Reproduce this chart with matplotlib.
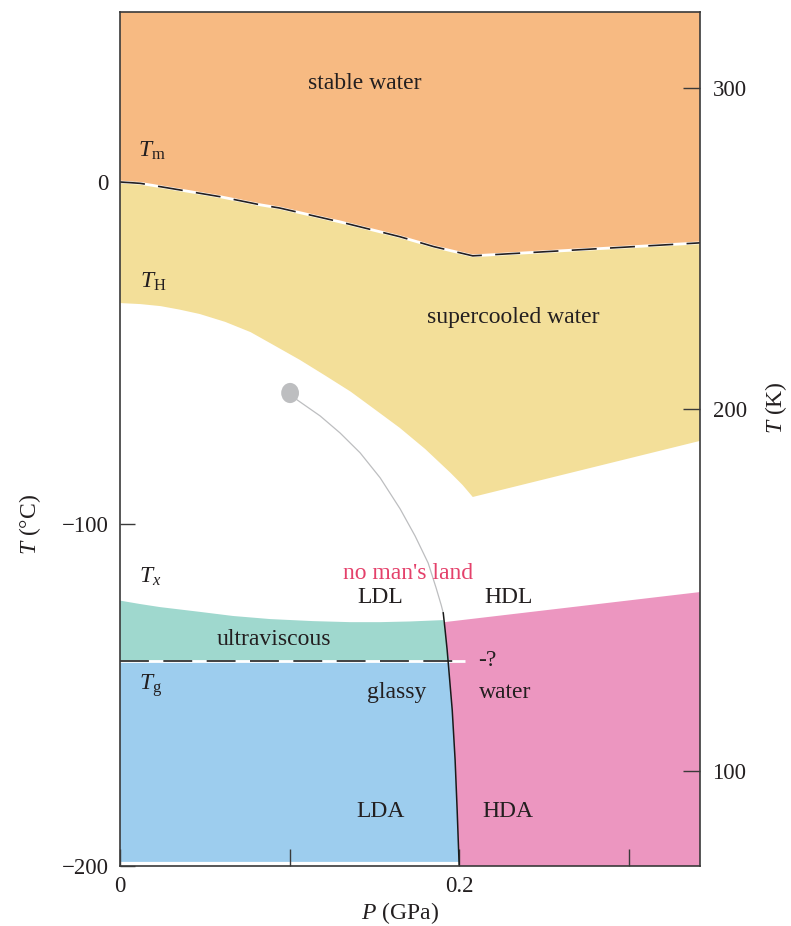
import numpy as np
import matplotlib
matplotlib.use("Agg")
import matplotlib.pyplot as plt
from matplotlib.patches import Ellipse

plt.rcParams['font.family'] = ['Liberation Serif', 'DejaVu Serif']
plt.rcParams['mathtext.fontset'] = 'custom'
plt.rcParams['mathtext.rm'] = 'Liberation Serif'
plt.rcParams['mathtext.it'] = 'Liberation Serif:italic'
plt.rcParams['axes.unicode_minus'] = True

# ---------------- data (P in GPa, T in degC) ----------------
# melting line T_m
P_m = [0, 0.012, 0.035, 0.059, 0.083, 0.094, 0.130, 0.165, 0.185, 0.208, 0.342]
T_m = [0, -0.4, -2.3, -4.3, -6.7, -7.6, -11.7, -16.0, -18.9, -21.6, -17.8]
# homogeneous nucleation line T_H
P_H = [0, 0.012, 0.024, 0.035, 0.047, 0.062, 0.077, 0.091, 0.106, 0.121, 0.136,
       0.150, 0.165, 0.180, 0.195, 0.202, 0.208, 0.342]
T_H = [-35.4, -35.7, -36.3, -37.3, -38.6, -40.9, -43.9, -47.8, -52.0, -56.6, -61.3,
       -66.4, -71.9, -78.1, -85.1, -88.6, -92.1, -75.7]
# crystallisation line T_x (LDL side)
P_x = [0, 0.0118, 0.0236, 0.0472, 0.0667, 0.0885, 0.1139, 0.1357, 0.1534, 0.1711, 0.1906]
T_x = [-122.4, -123.4, -124.3, -125.7, -126.9, -127.8, -128.4, -128.7, -128.7, -128.5, -128.1]
# crystallisation line (HDL side)
P_xh = [0.1915, 0.342]
T_xh = [-128.7, -119.9]
# glass transition T_g
T_g = -140.0
P_g_end = 0.2035
# LDL/HDL (LDA/HDA) boundary, from the critical point down
P_b = [0.1003, 0.1044, 0.1180, 0.1298, 0.1416, 0.1534, 0.1652, 0.1740, 0.1817, 0.1864,
       0.1894, 0.1906, 0.1917, 0.1929, 0.1944, 0.1959, 0.1976, 0.1988, 0.2000]
T_b = [-61.7, -63.7, -68.4, -73.4, -79.2, -86.5, -95.6, -103.5, -111.4, -118.7,
       -123.7, -126.0, -131.0, -136.8, -145.6, -154.4, -169.0, -183.6, -200.0]
T_b_solid_start = -126.0
# critical point
P_c, T_c = 0.1003, -61.7

xticks = [0, 0.1, 0.2, 0.3]
xtick_labels = ['0', '', '0.2', '']
yticks = [0, -100, -200]
ytick_labels = ['0', '\u2212100', '\u2212200']
K_labels = [300, 200, 100]
K_pos_C = [27.5, -66.4, -172.2]

labels = [
    ("stable water", 0.1445, 28.9),
    ("supercooled water", 0.2319, -39.5),
    ("LDL", 0.1534, -121.6),
    ("HDL", 0.2289, -121.6),
    ("ultraviscous", 0.0909, -133.9),
    ("glassy", 0.1634, -149.4),
    ("water", 0.2271, -149.4),
    ("LDA", 0.1534, -184.2),
    ("HDA", 0.2289, -184.2),
]
sym_labels = [
    (r"$T_\mathrm{m}$", 0.0106, 7.5),
    (r"$T_\mathrm{H}$", 0.0118, -31.0),
    (r"$T_x$", 0.0112, -117.3),
    (r"$T_\mathrm{g}$", 0.0112, -148.5),
]

# ---------------- style ----------------
C_ORANGE = '#F7BA82'
C_YELLOW = '#F3DF99'
C_TEAL = '#9FD8CE'
C_BLUE = '#9DCDEE'
C_PINK = '#EC96C0'
C_TEXT = '#231F20'
C_RED = '#E4416B'
C_GRAY = '#BDBEC0'

XMAX = 0.342
YMIN, YMAX = -200.0, 49.7

fig = plt.figure(figsize=(7.91, 9.26), dpi=100)
ax = fig.add_axes([120/791, 60/926, 580/791, 854/926])
ax.set_xlim(0, XMAX)
ax.set_ylim(YMIN, YMAX)

Tb_arr = np.array(T_b)
Pb_arr = np.array(P_b)

def b_P(T):
    # P on boundary curve for given T (T_b decreasing)
    return float(np.interp(T, Tb_arr[::-1], Pb_arr[::-1]))

# orange: stable water
ax.fill(list(P_m) + [XMAX, 0], list(T_m) + [YMAX, YMAX], color=C_ORANGE, lw=0, zorder=1)
# yellow: supercooled
ax.fill(list(P_m) + list(P_H[::-1]), list(T_m) + list(T_H[::-1]), color=C_YELLOW, lw=0, zorder=1)

# pink: HDL / HDA
mask = Tb_arr < T_xh[0]
pink_P = [b_P(T_xh[0])] + list(P_xh[1:]) + [XMAX, XMAX] + list(Pb_arr[mask][::-1])
pink_T = [T_xh[0]] + list(T_xh[1:]) + [YMIN, YMIN] + list(Tb_arr[mask][::-1])
ax.fill(pink_P, pink_T, color=C_PINK, lw=0, zorder=1)

# teal: ultraviscous LDL
m2 = (Tb_arr < T_x[-1]) & (Tb_arr > T_g)
teal_P = list(P_x) + list(Pb_arr[m2]) + [b_P(T_g) + 0.001, 0]
teal_T = list(T_x) + list(Tb_arr[m2]) + [T_g, T_g]
ax.fill(teal_P, teal_T, color=C_TEAL, lw=0, zorder=1)

# blue: LDA
blue_bot = -198.8
m3 = (Tb_arr < T_g) & (Tb_arr > blue_bot)
blue_P = [0, b_P(T_g) + 0.001] + list(Pb_arr[m3]) + [b_P(blue_bot), 0]
blue_T = [T_g, T_g] + list(Tb_arr[m3]) + [blue_bot, blue_bot]
ax.fill(blue_P, blue_T, color=C_BLUE, lw=0, zorder=1)

# dashed lines
ax.plot(P_m, T_m, color='white', lw=2.0, zorder=2, solid_capstyle='butt')
ax.plot(P_m, T_m, color=C_TEXT, lw=1.2, dashes=(15, 8), zorder=3)
ax.plot([0, P_g_end], [T_g, T_g], color='white', lw=2.0, zorder=2, solid_capstyle='butt')
ax.plot([0, P_g_end], [T_g, T_g], color='#333333', lw=1.3, dashes=(16, 8), zorder=3)

# boundary: gray above, black below
upper = Tb_arr >= T_b_solid_start
lower = Tb_arr <= T_b_solid_start
ax.plot(Pb_arr[upper], Tb_arr[upper], color=C_GRAY, lw=0.9, zorder=4)
ax.plot(Pb_arr[lower], Tb_arr[lower], color='#1a1a1a', lw=1.1, zorder=4)
ax.add_patch(Ellipse((P_c, T_c), width=0.0105, height=5.9, color=C_GRAY, zorder=5, lw=0))

# texts
for s, x, y in labels:
    ax.text(x, y, s, ha='center', va='center', fontsize=17, color=C_TEXT, zorder=6)
for s, x, y in sym_labels:
    ax.text(x, y, s, ha='left', va='baseline', fontsize=17, color=C_TEXT, zorder=6)
ax.text(0.1699, -114.6, "no man's land", ha='center', va='center', fontsize=17, color=C_RED, zorder=6)
ax.text(0.2110, T_g, "-?", ha='left', va='center', fontsize=17, color=C_TEXT, zorder=6)

# axes styling
for sp in ax.spines.values():
    sp.set_color('#3a3a3a')
    sp.set_linewidth(1.2)
    sp.set_zorder(7)
ax.set_xticks(xticks)
ax.set_xticklabels(xtick_labels)
ax.set_yticks(yticks)
ax.set_yticklabels(ytick_labels)
ax.tick_params(axis='x', direction='in', length=12, width=1.0, color='#3a3a3a',
               labelsize=16.5, labelcolor=C_TEXT, pad=7)
ax.tick_params(axis='y', direction='in', length=11, width=1.0, color='#3a3a3a',
               labelsize=16.5, labelcolor=C_TEXT, pad=8)

ax2 = ax.twinx()
ax2.set_ylim(YMIN, YMAX)
ax2.set_yticks(K_pos_C)
ax2.set_yticklabels([str(k) for k in K_labels])
ax2.tick_params(axis='y', direction='in', length=12, width=1.0, color='#3a3a3a',
                labelsize=16.5, labelcolor=C_TEXT, pad=9)
for sp in ax2.spines.values():
    sp.set_visible(False)

fig.text(30/791, 1 - 525/926, r"$T$ (°C)", rotation=90, ha='center', va='center',
         fontsize=17, color=C_TEXT)
fig.text(776/791, 1 - 408/926, r"$T$ (K)", rotation=90, ha='center', va='center',
         fontsize=17, color=C_TEXT)
fig.text(400/791, 1 - 913/926, r"$P$ (GPa)", ha='center', va='center',
         fontsize=17, color=C_TEXT)

fig.savefig("out.png", dpi=100)
